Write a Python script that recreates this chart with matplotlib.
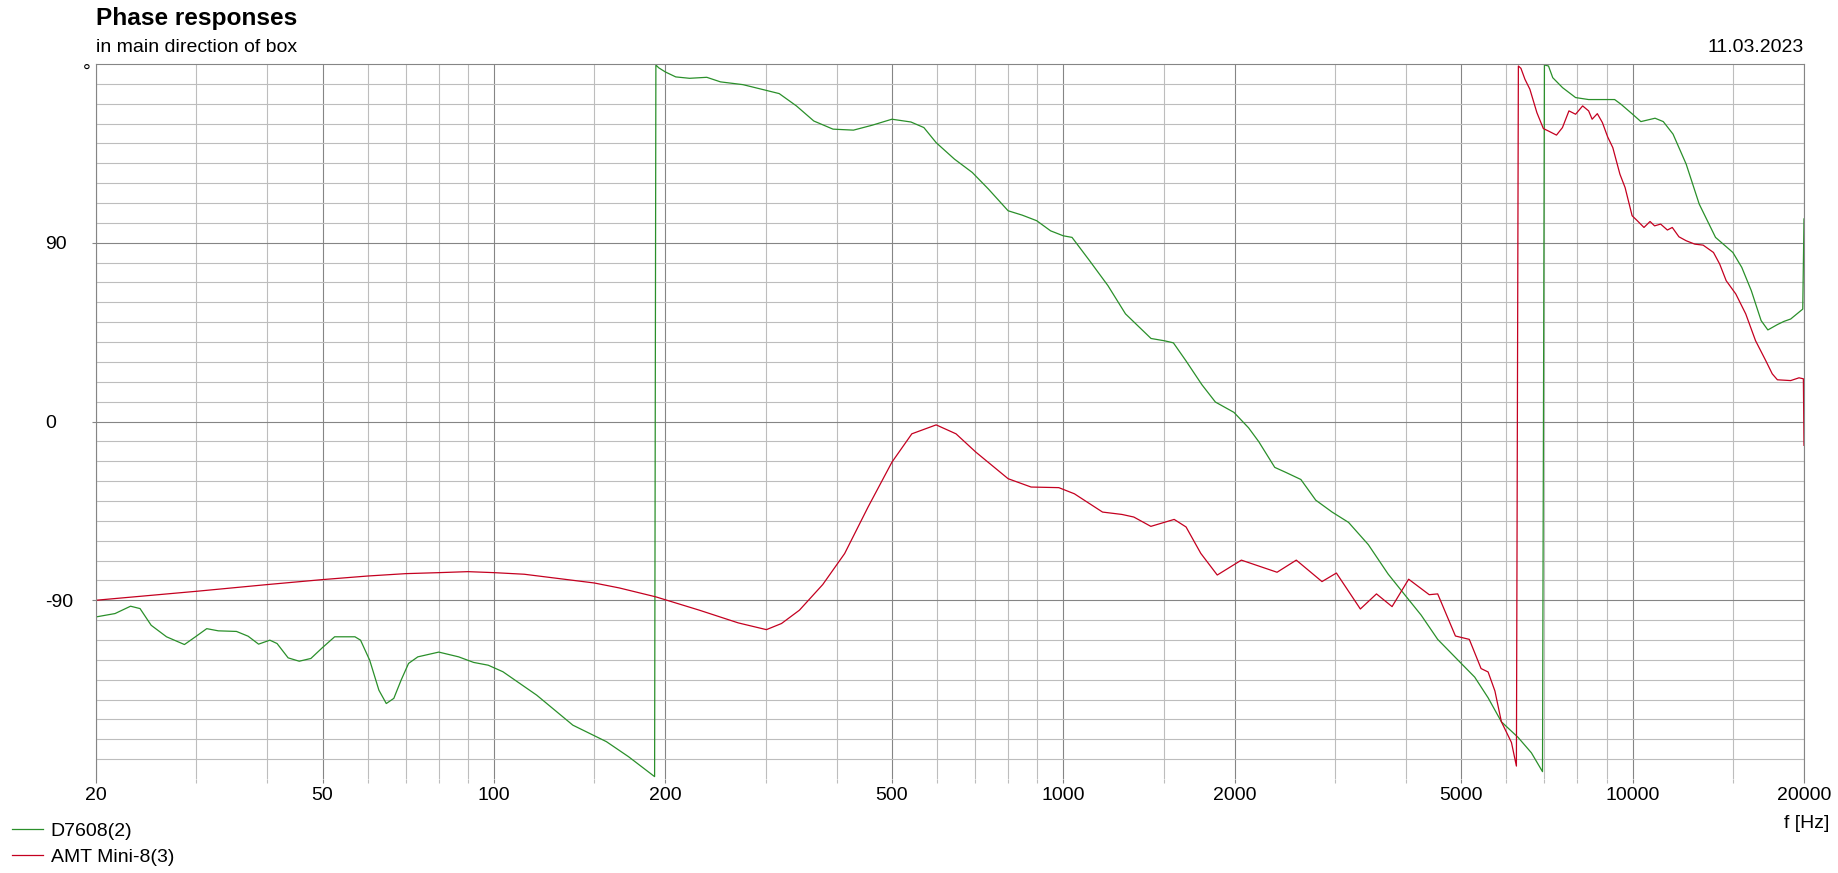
import matplotlib
matplotlib.use('Agg')
import matplotlib.pyplot as plt
from matplotlib.ticker import FixedLocator, NullFormatter

plt.rcParams['font.family'] = 'Liberation Sans'

# phase readings (degrees), wrapped at +/-180 like the measurement software does
green_freq = [20, 21.6, 23.0, 23.9, 25.0, 26.6, 28.6, 29.9, 31.3, 32.8,
              35.3, 37.0, 38.6, 40.4, 41.6, 43.5, 45.5, 47.7, 50, 52.5,
              57.0, 58.3, 60.5, 62.8, 64.7, 66.7, 68.7, 70.8, 73.5, 80,
              86.7, 92.1, 97.7, 103.7, 118.9, 137.6, 157.6, 172.4, 191.5,
              192.5, 194.7, 200, 208.6, 220.6, 236.5, 250, 273.8, 300, 317,
              339.8, 364.6, 394, 428, 462, 500, 540, 569, 598, 644,
              692, 739, 800, 847, 898, 950, 1000, 1036, 1112, 1198,
              1286, 1426, 1508, 1561, 1642, 1752, 1850, 1994, 2116, 2204,
              2352, 2463, 2614, 2776, 2966, 3170, 3434, 3720, 3978, 4252,
              4546, 5000, 5280, 5574, 5882, 6290, 6640, 6946,
              7000, 7116, 7240, 7532, 7940, 8368, 9300, 9544, 10000, 10340,
              10950, 11320, 11776, 12418, 13090, 13984, 15000, 15550, 16160, 16816,
              17280, 17960, 18440, 18950, 19900, 20000]
green_phase = [-98.4, -96.7, -93.0, -94.2, -102.6, -108.4, -112.3, -108.4, -104.3, -105.4,
               -105.7, -108.1, -112.1, -110.1, -111.8, -119.0, -120.7, -119.3, -113.8, -108.4,
               -108.4, -110.1, -120.2, -135.3, -142.0, -139.4, -130.2, -121.8, -118.5, -116.1,
               -118.5, -121.3, -122.7, -126.0, -137.8, -152.9, -161.2, -168.8, -178.8,
               179.5, 178.1, 176.0, 173.5, 172.8, 173.3, 171.0, 169.6, 166.8, 165.1,
               158.9, 151.3, 147.2, 146.7, 149.2, 152.2, 150.8, 148.0, 140.4, 132.1,
               125.4, 117.0, 106.1, 103.9, 101.1, 96.0, 93.5, 92.7, 81.0, 68.4,
               54.2, 41.8, 40.6, 39.6, 30.6, 18.5, 9.8, 4.6, -3.2, -10.1,
               -23.1, -25.7, -29.2, -39.6, -45.6, -50.8, -62.0, -76.8, -87.2, -97.5,
               -109.7, -121.8, -128.7, -139.1, -151.2, -159.0, -166.8, -176.3,
               179.5, 179.0, 173.1, 168.1, 163.1, 162.1, 162.1, 159.7, 154.7, 151.0,
               152.7, 151.0, 144.7, 129.6, 109.5, 92.7, 85.1, 77.6, 65.9, 50.8,
               46.1, 48.8, 50.4, 51.6, 56.6, 102.0]

red_freq = [20, 30, 40, 50, 60, 70, 80, 90, 100, 113,
            150, 166, 192.5, 229.5, 268.6, 301, 320, 344, 378, 413,
            454, 500, 542, 598, 648, 702, 800, 878, 982, 1046,
            1172, 1268, 1330, 1425, 1566, 1643, 1744, 1864, 2055, 2374,
            2566, 2847, 3018, 3325, 3549, 3780, 4042, 4393, 4546, 4884,
            5166, 5418, 5574, 5730, 5882, 6126, 6250,
            6300, 6366, 6470, 6600, 6790, 6970, 7110, 7350, 7530, 7730,
            7940, 8170, 8370, 8490, 8670, 8850, 9040, 9230, 9500, 9700,
            9980, 10190, 10470, 10730, 10930, 11200, 11510, 11740, 12060, 12420,
            12860, 13300, 13870, 14220, 14600, 15180, 15800, 16440, 17130, 17590,
            17960, 18950, 19600, 19950, 20000]
red_phase = [-90.0, -85.5, -82.1, -79.6, -77.8, -76.6, -76.1, -75.6, -76.1, -76.9,
             -81.3, -83.8, -88.3, -95.0, -101.4, -104.8, -101.7, -95.0, -82.1, -66.5,
             -43.1, -20.5, -6.2, -1.7, -6.2, -15.4, -28.8, -33.0, -33.3, -36.4,
             -45.6, -46.8, -48.1, -52.8, -49.3, -53.1, -66.4, -77.3, -69.8, -75.9,
             -69.8, -80.6, -76.3, -94.4, -86.8, -93.2, -79.4, -87.2, -86.8, -108.0,
             -109.7, -124.4, -126.1, -135.7, -151.2, -161.6, -173.5,
             179.0, 177.8, 172.3, 167.3, 155.5, 147.5, 146.3, 144.2, 148.0, 156.4,
             154.7, 158.9, 156.4, 152.2, 155.0, 150.5, 143.3, 137.9, 124.5, 117.8,
             103.6, 101.1, 97.7, 100.7, 98.5, 99.4, 96.4, 97.7, 93.0, 91.0,
             89.3, 88.8, 85.1, 79.3, 70.9, 64.2, 54.2, 40.7, 30.7, 24.0,
             21.0, 20.6, 22.0, 21.5, -12.0]

x_major = [20, 50, 100, 200, 500, 1000, 2000, 5000, 10000, 20000]
x_labels = ['20', '50', '100', '200', '500', '1000', '2000', '5000', '10000', '20000']
x_minor = [30, 40, 60, 70, 80, 90, 150, 300, 400, 600, 700, 800, 900, 1500,
           3000, 4000, 6000, 7000, 8000, 9000, 15000]
y_major = [-90, 0, 90]
y_labels = ['-90', '0', '90']
y_minor = [v for v in range(-170, 180, 10) if v % 90 != 0]

major_grid = '#858585'
minor_grid = '#bdbdbd'
green = '#2a8f2a'
red = '#c40020'

fig = plt.figure(figsize=(18.38, 8.73), dpi=100)
ax = fig.add_axes([96 / 1838, 94 / 873, 1708 / 1838, 715 / 873])

ax.semilogx(green_freq, green_phase, color=green, lw=0.9, label='D7608(2)')
ax.semilogx(red_freq, red_phase, color=red, lw=0.9, label='AMT Mini-8(3)')

ax.set_xlim(20, 20000)
ax.set_ylim(-180, 180)

ax.set_xticks(x_major, labels=x_labels)
ax.xaxis.set_minor_locator(FixedLocator(x_minor))
ax.xaxis.set_minor_formatter(NullFormatter())
ax.set_yticks(y_major, labels=y_labels)
ax.yaxis.set_minor_locator(FixedLocator(y_minor))

ax.grid(which='major', color=major_grid, lw=0.8)
ax.grid(which='minor', color=minor_grid, lw=0.8)
ax.set_axisbelow(True)

for side in ['left', 'top', 'right']:
    ax.spines[side].set_color(major_grid)
    ax.spines[side].set_linewidth(0.8)
ax.spines['bottom'].set_visible(False)

ax.tick_params(axis='x', which='major', direction='out', length=3, width=0.8,
               color=major_grid, labelsize=14, pad=2.5)
ax.tick_params(axis='x', which='minor', direction='out', length=3, width=0.8,
               color=minor_grid)
ax.tick_params(axis='y', which='major', direction='out', length=3, width=0.8,
               color=major_grid, labelsize=14, pad=33.5)
ax.tick_params(axis='y', which='minor', length=0)
for lab in ax.get_yticklabels():
    lab.set_horizontalalignment('left')

# degree sign at the top of the phase axis
ax.text(-13 / 1708, 180, '\u00b0', transform=ax.get_yaxis_transform(),
        ha='left', va='top', fontsize=14)

fig.text(96 / 1838, 1 - 25 / 873, 'Phase responses', fontsize=17.6,
         fontweight='bold', va='baseline')
fig.text(96 / 1838, 1 - 51.7 / 873, 'in main direction of box', fontsize=14,
         va='baseline')
fig.text(1804 / 1838, 1 - 51.7 / 873, '11.03.2023', fontsize=14,
         ha='right', va='baseline')
fig.text(1829 / 1838, 1 - 828 / 873, 'f [Hz]', fontsize=14,
         ha='right', va='baseline')

fig.legend(loc='upper left', bbox_to_anchor=(11.5 / 1838, 1 - 822 / 873),
           frameon=False, fontsize=14, handlelength=1.62, handletextpad=0.4,
           labelspacing=0.45, borderpad=0, borderaxespad=0)

fig.savefig('out.png', dpi=100)
